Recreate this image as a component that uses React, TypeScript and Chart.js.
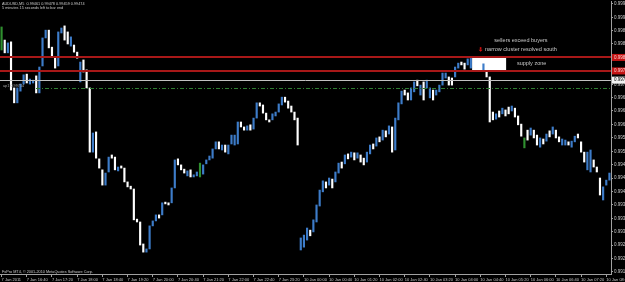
import React, { useEffect, useRef } from 'react';
import { Chart, registerables } from 'chart.js';

Chart.register(...registerables);

const FONT = '"Liberation Sans", Arial, sans-serif';

// ---- header / footer texts ----
const headerLine1 = 'AUDUSD,M5  0.99461 0.99478 0.99459 0.99474';
const headerLine2 = '5 minutes 15 seconds left to bar end';
const footerText = 'FxPro MT4, \u00A9 2001-2010 MetaQuotes Software Corp.';

// ---- x axis tick labels (every 8th M5 bar) ----
const timeTickLabels = [
  '7 Jan 2011', '7 Jan 16:40', '7 Jan 17:20', '7 Jan 18:00', '7 Jan 18:40', '7 Jan 19:20',
  '7 Jan 20:00', '7 Jan 20:40', '7 Jan 21:20', '7 Jan 22:00', '7 Jan 22:40', '7 Jan 23:20',
  '10 Jan 00:00', '10 Jan 00:40', '10 Jan 01:20', '10 Jan 02:00', '10 Jan 02:40', '10 Jan 03:20',
  '10 Jan 04:00', '10 Jan 04:40', '10 Jan 05:20', '10 Jan 06:00', '10 Jan 06:40', '10 Jan 07:20',
  '10 Jan 08:00',
];

// ---- price axis ----
const priceMin = 0.991893;
const priceMax = 0.999592;
const priceTicks = [
  0.99195, 0.99233, 0.99271, 0.99308, 0.99346, 0.99384, 0.99422, 0.99460, 0.99497, 0.99535,
  0.99573, 0.99611, 0.99649, 0.99686, 0.99724, 0.99762, 0.99800, 0.99838, 0.99875, 0.99913, 0.99951,
];

// ---- bars (low / high per M5 bar) ----
const barLows = [
  0.99821, 0.99813, 0.99813, 0.99708, 0.99672, 0.99672, 0.99705, 0.99725, 0.99728, 0.99725,
  0.99728, 0.99700, 0.99700, 0.99776, 0.99855, 0.99827, 0.99804, 0.99770, 0.99776, 0.99869,
  0.99849, 0.99838, 0.99832, 0.99815, 0.99798, 0.99731, 0.99759, 0.99714, 0.99533, 0.99533,
  0.99516, 0.99488, 0.99440, 0.99440, 0.99477, 0.99516, 0.99483, 0.99480, 0.99488, 0.99449,
  0.99435, 0.99429, 0.99342, 0.99336, 0.99271, 0.99251, 0.99251, 0.99260, 0.99325, 0.99339,
  0.99347, 0.99356, 0.99387, 0.99384, 0.99390, 0.99432, 0.99497, 0.99483, 0.99474, 0.99466,
  0.99463, 0.99463, 0.99466, 0.99463, 0.99471, 0.99500, 0.99511, 0.99516, 0.99542, 0.99542,
  0.99539, 0.99533, 0.99528, 0.99556, 0.99553, 0.99556, 0.99604, 0.99595, 0.99595, 0.99595,
  0.99598, 0.99629, 0.99663, 0.99643, 0.99624, 0.99618, 0.99624, 0.99635, 0.99646, 0.99666,
  0.99674, 0.99657, 0.99646, 0.99624, 0.99553, 0.99257, 0.99265, 0.99285, 0.99297, 0.99308,
  0.99336, 0.99381, 0.99421, 0.99432, 0.99440, 0.99432, 0.99449, 0.99474, 0.99488, 0.99500,
  0.99514, 0.99519, 0.99511, 0.99516, 0.99505, 0.99497, 0.99505, 0.99528, 0.99542, 0.99550,
  0.99562, 0.99567, 0.99576, 0.99584, 0.99533, 0.99539, 0.99624, 0.99669, 0.99694, 0.99680,
  0.99680, 0.99703, 0.99720, 0.99694, 0.99680, 0.99714, 0.99686, 0.99680, 0.99694, 0.99703,
  0.99722, 0.99742, 0.99722, 0.99722, 0.99745, 0.99770, 0.99779, 0.99767, 0.99779, 0.99770,
  0.99773, 0.99765, 0.99765, 0.99765, 0.99745, 0.99618, 0.99624, 0.99626, 0.99632, 0.99641,
  0.99635, 0.99641, 0.99649, 0.99632, 0.99610, 0.99578, 0.99545, 0.99567, 0.99581, 0.99573,
  0.99553, 0.99547, 0.99556, 0.99564, 0.99576, 0.99584, 0.99573, 0.99562, 0.99553, 0.99553,
  0.99553, 0.99547, 0.99562, 0.99573, 0.99533, 0.99505, 0.99483, 0.99477, 0.99491, 0.99477,
  0.99412, 0.99398, 0.99440, 0.99454,
];

const barHighs = [
  0.99886, 0.99849, 0.99841, 0.99844, 0.99714, 0.99714, 0.99725, 0.99751, 0.99753, 0.99739,
  0.99736, 0.99748, 0.99773, 0.99855, 0.99877, 0.99877, 0.99829, 0.99801, 0.99872, 0.99883,
  0.99889, 0.99872, 0.99858, 0.99835, 0.99815, 0.99787, 0.99793, 0.99765, 0.99714, 0.99587,
  0.99590, 0.99514, 0.99483, 0.99474, 0.99519, 0.99525, 0.99519, 0.99491, 0.99494, 0.99488,
  0.99449, 0.99437, 0.99429, 0.99344, 0.99336, 0.99274, 0.99260, 0.99325, 0.99339, 0.99356,
  0.99356, 0.99390, 0.99392, 0.99390, 0.99432, 0.99511, 0.99514, 0.99497, 0.99485, 0.99480,
  0.99483, 0.99469, 0.99477, 0.99502, 0.99497, 0.99511, 0.99522, 0.99542, 0.99562, 0.99562,
  0.99553, 0.99553, 0.99553, 0.99581, 0.99581, 0.99618, 0.99618, 0.99604, 0.99607, 0.99610,
  0.99629, 0.99672, 0.99672, 0.99666, 0.99643, 0.99624, 0.99641, 0.99646, 0.99669, 0.99688,
  0.99688, 0.99677, 0.99663, 0.99646, 0.99629, 0.99291, 0.99299, 0.99319, 0.99313, 0.99342,
  0.99384, 0.99426, 0.99452, 0.99449, 0.99460, 0.99457, 0.99477, 0.99502, 0.99505, 0.99525,
  0.99528, 0.99533, 0.99531, 0.99531, 0.99525, 0.99516, 0.99533, 0.99553, 0.99556, 0.99573,
  0.99576, 0.99595, 0.99593, 0.99607, 0.99604, 0.99629, 0.99672, 0.99705, 0.99708, 0.99700,
  0.99714, 0.99731, 0.99736, 0.99722, 0.99731, 0.99736, 0.99714, 0.99708, 0.99708, 0.99722,
  0.99756, 0.99756, 0.99745, 0.99742, 0.99773, 0.99784, 0.99787, 0.99784, 0.99796, 0.99798,
  0.99796, 0.99793, 0.99784, 0.99782, 0.99770, 0.99745, 0.99646, 0.99641, 0.99649, 0.99657,
  0.99652, 0.99660, 0.99663, 0.99657, 0.99635, 0.99612, 0.99573, 0.99595, 0.99601, 0.99595,
  0.99581, 0.99573, 0.99570, 0.99584, 0.99593, 0.99604, 0.99595, 0.99576, 0.99570, 0.99567,
  0.99562, 0.99564, 0.99578, 0.99584, 0.99562, 0.99533, 0.99533, 0.99539, 0.99511, 0.99491,
  0.99460, 0.99435, 0.99454, 0.99474,
];

// u = bull bar, d = bear bar, g = doji
const barDirs = [
  'gdudduuudu', 'uduuuddduu', 'dduddudddu', 'ddduuddudd', 'dddddduuuu',
  'dudduudddu', 'duuguuuuud', 'uduuuuddud', 'uudddduuuu', 'ddddduuudu',
  'uuududuudu', 'dududduudu', 'dududuuudd', 'uududuuduu', 'uudduudduu',
  'dddudddudu', 'ddudddgdud', 'dudududduu', 'duuddduudd', 'duuu',
].join('').split('');

// ---- horizontal levels ----
const redLevels = [0.998, 0.99762];
const silverLevel = 0.99736;
const dashLevel = 0.99714;
const dashLabel = 'ap1 0.99714';

// ---- supply zone box (bar index range) ----
const zoneFromIndex = 149.4;
const zoneToIndex = 160.2;

// ---- notes ----
const noteTexts = ['sellers exceed buyers', 'narrow cluster resolved south', 'supply zone'];
const noteIndex = [164.9, 153.5, 168.3];
const notePrice = [0.99848, 0.99822, 0.99782];
const noteAlign = ['center', 'left', 'center'];
const arrowIndex = 152.1;
const arrowPrice = 0.99822;

const BLUE = '#3d7cc9';
const WHITE = '#ffffff';
const GREEN = '#2f8f2f';

const overlayPlugin = {
  id: 'mtOverlay',
  beforeDatasetsDraw(chart: any) {
    const { ctx, scales } = chart;
    const x = scales.x, y = scales.y;
    ctx.save();
    const x1 = x.getPixelForValue(zoneFromIndex);
    const x2 = x.getPixelForValue(zoneToIndex);
    const y1 = y.getPixelForValue(redLevels[0]);
    const y2 = y.getPixelForValue(redLevels[1]);
    ctx.fillStyle = '#ffffff';
    ctx.fillRect(x1, y1, x2 - x1, y2 - y1);
    ctx.restore();
  },
  afterDatasetsDraw(chart: any) {
    const { ctx, chartArea: a, scales } = chart;
    const y = scales.y;
    ctx.save();
    const sy = Math.round(y.getPixelForValue(silverLevel)) + 0.5;
    ctx.strokeStyle = '#c0c0c0';
    ctx.lineWidth = 1;
    ctx.beginPath(); ctx.moveTo(a.left, sy); ctx.lineTo(a.right, sy); ctx.stroke();
    const dy = Math.round(y.getPixelForValue(dashLevel)) + 0.5;
    ctx.strokeStyle = '#2e7d32';
    ctx.setLineDash([4, 2, 1, 2]);
    ctx.beginPath(); ctx.moveTo(a.left + 36, dy); ctx.lineTo(a.right, dy); ctx.stroke();
    ctx.setLineDash([]);
    ctx.strokeStyle = '#a81818';
    ctx.lineWidth = 2;
    redLevels.forEach((lv) => {
      const ry = Math.round(y.getPixelForValue(lv));
      ctx.beginPath(); ctx.moveTo(a.left, ry); ctx.lineTo(a.right, ry); ctx.stroke();
    });
    ctx.restore();
  },
  afterDraw(chart: any) {
    const { ctx, chartArea: a, scales, width } = chart;
    const x = scales.x, y = scales.y;
    ctx.save();
    ctx.textBaseline = 'middle';
    ctx.fillStyle = '#c8c8c8';
    ctx.font = `3.8px ${FONT}`;
    ctx.textAlign = 'left';
    ctx.fillText(headerLine1, a.left + 2, a.top + 3);
    ctx.fillText(headerLine2, a.left + 2, a.top + 7);
    ctx.fillText(footerText, a.left + 2, a.bottom - 2.5);
    ctx.fillStyle = '#a0a0a0';
    ctx.fillText(dashLabel, a.left + 3, y.getPixelForValue(dashLevel) - 2.5);
    ctx.font = `5.5px ${FONT}`;
    ctx.fillStyle = '#c8c8c8';
    noteTexts.forEach((t, i) => {
      ctx.textAlign = noteAlign[i];
      ctx.fillText(t, x.getPixelForValue(noteIndex[i]), y.getPixelForValue(notePrice[i]));
    });
    const ax = x.getPixelForValue(arrowIndex);
    const ay = y.getPixelForValue(arrowPrice);
    ctx.fillStyle = '#d01010';
    ctx.fillRect(ax - 0.8, ay - 2.5, 1.6, 2.5);
    ctx.beginPath();
    ctx.moveTo(ax - 2, ay); ctx.lineTo(ax + 2, ay); ctx.lineTo(ax, ay + 2.2); ctx.closePath();
    ctx.fill();
    ctx.font = `4.5px ${FONT}`;
    ctx.textAlign = 'left';
    redLevels.forEach((lv) => {
      const ry = y.getPixelForValue(lv);
      ctx.fillStyle = '#c41414';
      ctx.fillRect(a.right + 1, ry - 3.5, width - a.right - 1, 7);
      ctx.fillStyle = '#ffd0d0';
      ctx.fillText(lv.toFixed(5), a.right + 3, ry);
    });
    const sy = y.getPixelForValue(silverLevel);
    ctx.fillStyle = '#f2f2f2';
    ctx.fillRect(a.right + 1, sy - 3.5, width - a.right - 1, 7);
    ctx.fillStyle = '#000000';
    ctx.fillText(silverLevel.toFixed(5), a.right + 3, sy);
    ctx.restore();
  },
};

export default function App() {
  const canvasRef = useRef<HTMLCanvasElement | null>(null);

  useEffect(() => {
    const canvas = canvasRef.current;
    if (!canvas) return;
    const chart = new Chart(canvas, {
      type: 'bar',
      data: {
        labels: barLows.map((_, i) => String(i)),
        datasets: [
          {
            data: barLows.map((lo, i) => [lo, barHighs[i]]),
            backgroundColor: barLows.map((_, i) =>
              barDirs[i] === 'u' ? BLUE : barDirs[i] === 'g' ? GREEN : WHITE
            ),
            barThickness: 1.5,
            borderWidth: 0,
            borderSkipped: false,
          } as any,
        ],
      },
      options: {
        responsive: false,
        animation: false,
        devicePixelRatio: 1,
        layout: { padding: { top: 1, left: 0, right: 0, bottom: 0 } },
        plugins: { legend: { display: false }, tooltip: { enabled: false } },
        scales: {
          x: {
            type: 'category',
            offset: true,
            grid: {
              display: true,
              drawOnChartArea: false,
              offset: false,
              tickLength: 3,
              color: (c: any) => (c.index % 8 === 0 ? '#a0a0a0' : 'rgba(0,0,0,0)'),
            },
            border: { display: true, color: '#a0a0a0' },
            ticks: {
              autoSkip: false,
              maxRotation: 0,
              minRotation: 0,
              align: 'start',
              padding: 0,
              color: '#c8c8c8',
              font: { size: 4, family: FONT },
              callback: (_v: any, i: number) => (i % 8 === 0 ? timeTickLabels[i / 8] : ''),
            },
            afterFit: (s: any) => {
              s.height = 8;
              s.paddingLeft = 0;
              s.paddingRight = 0;
            },
          },
          y: {
            position: 'right',
            min: priceMin,
            max: priceMax,
            afterBuildTicks: (s: any) => {
              s.ticks = priceTicks.map((v) => ({ value: v }));
            },
            grid: { drawOnChartArea: false, tickLength: 2, color: '#a0a0a0' },
            border: { display: true, color: '#a0a0a0' },
            ticks: {
              autoSkip: false,
              padding: 1,
              color: '#c8c8c8',
              font: { size: 4.5, family: FONT },
              callback: (v: any) => Number(v).toFixed(5),
            },
            afterFit: (s: any) => {
              s.width = 14;
              s.paddingTop = 0;
              s.paddingBottom = 0;
            },
          },
        },
      } as any,
      plugins: [overlayPlugin],
    });
    return () => chart.destroy();
  }, []);

  return (
    <div style={{ position: 'fixed', left: 0, top: 0, width: 625, height: 282, background: '#000' }}>
      <canvas ref={canvasRef} width={625} height={282} style={{ display: 'block' }} />
    </div>
  );
}
